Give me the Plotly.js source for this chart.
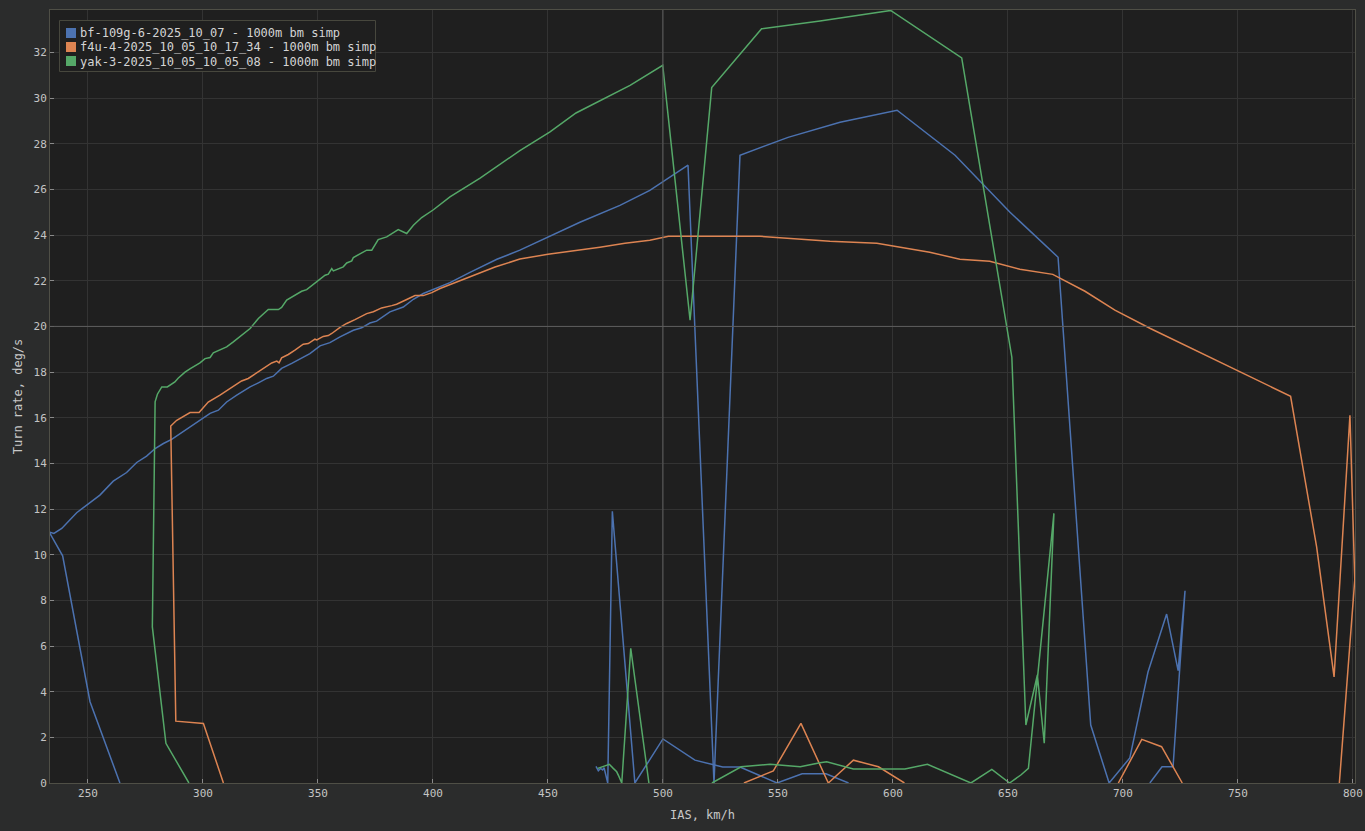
<!DOCTYPE html>
<html>
<head>
<meta charset="utf-8">
<script src="https://cdn.plot.ly/plotly-3.0.1.min.js"></script>
<style>html,body{margin:0;padding:0;background:#2b2c2c;}#chart{width:1365px;height:831px;}</style>
</head>
<body>
<div id="chart"></div>
<script>
// ---- Data (IAS km/h, turn rate deg/s); null separates unconnected pieces ----
const seriesNames = [
  "bf-109g-6-2025_10_07 - 1000m bm simp",
  "f4u-4-2025_10_05_10_17_34 - 1000m bm simp",
  "yak-3-2025_10_05_10_05_08 - 1000m bm simp"
];

const bfX = [263.9, 250.9, 239.0, 233.1, 235.2, 238.6, 245.1, 250.2, 255.2, 261.0, 266.8, 271.2, 275.5, 279.2, 282.8, 286.4, 291.5, 297.3,
  303.1, 306.7, 310.3, 314.7, 320.5, 324.1, 327.7, 330.6, 334.2, 338.6, 342.9, 346.5, 350.9, 355.2, 359.6, 365.4, 369.0, 372.6, 375.5,
  381.3, 387.1, 391.5, 395.8, 401.6, 407.4, 416.1, 427.8, 437.8, 450.9, 463.9, 481.3, 494.3, 510.9, 522.2, 533.5, 554.4, 577.0, 601.8,
  627.0, 650.9, 671.8, 686.0, 694.0, 703.0, 710.9, 719.0, 724.0, 727.0, 721.8, 717.0, 711.7,
  null,
  470.9, 471.9, 472.9, 473.8, 474.4, 476.0, 478.0, 487.8, 500.0, 513.9, 526.0, 533.5, 549.6, 560.5, 570.9, 580.7];
const bfY = [0, 3.56, 9.95, 11.0, 10.93, 11.15, 11.84, 12.22, 12.61, 13.22, 13.6, 14.04, 14.32, 14.65, 14.87, 15.05, 15.41, 15.82,
  16.19, 16.33, 16.69, 16.99, 17.35, 17.53, 17.72, 17.82, 18.16, 18.38, 18.62, 18.81, 19.15, 19.29, 19.54, 19.83, 19.94, 20.15, 20.23,
  20.64, 20.85, 21.19, 21.44, 21.69, 21.92, 22.37, 22.94, 23.34, 23.95, 24.56, 25.3, 25.96, 27.06, 0, 27.5, 28.28, 28.94, 29.47,
  27.5, 25.0, 23.03, 2.54, 0, 1.1, 4.86, 7.4, 4.92, 8.42, 0.71, 0.71, 0,
  null,
  0.73, 0.54, 0.64, 0.57, 0.67, 0, 11.9, 0, 1.93, 1.0, 0.7, 0.7, 0, 0.4, 0.4, 0];

const f4uX = [308.9, 300.2, 288.2, 286.0, 288.6, 294.4, 298.3, 301.6, 302.3, 307.4, 312.5, 316.8, 319.7, 324.1, 327.7, 329.9, 332.1, 333.1,
  334.2, 337.1, 340.0, 343.6, 345.8, 348.7, 349.5, 352.3, 354.5, 356.0, 359.6, 362.5, 366.1, 371.2, 374.1, 377.7, 382.1, 384.2, 388.6,
  392.2, 395.8, 399.5, 403.1, 407.4, 416.1, 427.0, 437.8, 450.0, 472.6, 483.5, 494.3, 502.4, 542.2, 572.6, 593.0, 616.0, 629.1, 642.1, 655.2,
  669.5, 683.5, 696.5, 711.7, 733.5, 750.9, 772.9, 784.2, 791.8, 798.7, 800.8, 794.1,
  null,
  535.2, 548.0, 560.0, 571.9, 582.8, 593.7, 605.0,
  null,
  698.0, 708.2, 716.8, 725.8];
const f4uY = [0, 2.61, 2.71, 15.64, 15.89, 16.23, 16.23, 16.62, 16.69, 16.99, 17.31, 17.61, 17.72, 18.01, 18.23, 18.4, 18.48, 18.4,
  18.62, 18.77, 18.96, 19.22, 19.25, 19.44, 19.41, 19.56, 19.6, 19.69, 19.96, 20.13, 20.3, 20.56, 20.64, 20.81, 20.91, 20.97, 21.18,
  21.35, 21.35, 21.48, 21.66, 21.83, 22.2, 22.6, 22.95, 23.16, 23.47, 23.64, 23.77, 23.95, 23.95, 23.73, 23.64, 23.25, 22.94, 22.85, 22.5,
  22.28, 21.54, 20.71, 19.92, 18.87, 18.0, 16.94, 10.35, 4.65, 16.11, 8.9, 0,
  null,
  0, 0.53, 2.61, 0, 1.0, 0.71, 0,
  null,
  0, 1.91, 1.59, 0];

const yakX = [293.9, 283.9, 278.0, 279.2, 280.2, 282.1, 284.5, 287.8, 289.2, 292.2, 294.5, 298.7, 300.9, 303.1, 304.5, 307.4, 310.3, 313.2,
  316.1, 320.5, 324.1, 328.4, 332.8, 334.2, 336.4, 340.8, 342.9, 345.1, 349.5, 351.6, 353.1, 354.5, 355.2, 356.0, 356.7, 359.6, 361.0,
  362.5, 364.7, 365.4, 367.5, 371.2, 373.4, 376.2, 379.9, 384.9, 388.6, 391.5, 395.1, 400.2, 407.4, 420.5, 437.8, 450.9, 462.2, 485.7,
  499.9, 511.8, 521.2, 542.9, 568.3, 585.7, 599.0, 629.9, 651.7, 657.8, 662.8, 665.8, 670.0, 658.9, 655.6, 650.7, 643.0, 633.9, 615.0,
  605.2, 582.8, 571.2, 568.3, 559.7, 546.6, 534.0, 521.3,
  null,
  471.7, 476.7, 478.4, 479.9, 480.9, 482.1, 486.0, 493.9];
const yakY = [0, 1.74, 6.84, 16.7, 17.03, 17.35, 17.35, 17.57, 17.73, 18.0, 18.15, 18.4, 18.59, 18.64, 18.84, 18.96, 19.1, 19.32,
  19.54, 19.91, 20.35, 20.74, 20.74, 20.83, 21.15, 21.4, 21.54, 21.61, 21.95, 22.14, 22.24, 22.29, 22.43, 22.53, 22.43, 22.53, 22.61,
  22.78, 22.87, 23.02, 23.13, 23.34, 23.34, 23.8, 23.92, 24.24, 24.07, 24.43, 24.77, 25.11, 25.67, 26.5, 27.7, 28.52, 29.35, 30.56,
  31.44, 20.27, 30.46, 33.04, 33.38, 33.63, 33.84, 31.76, 18.65, 2.54, 4.73, 1.74, 11.81, 0.64, 0.35, 0, 0.6, 0, 0.82,
  0.61, 0.61, 0.93, 0.89, 0.71, 0.82, 0.71, 0,
  null,
  0.64, 0.82, 0.64, 0.49, 0.28, 0, 5.9, 0];

const xTicks = [250, 300, 350, 400, 450, 500, 550, 600, 650, 700, 750, 800];
const yTicks = [0, 2, 4, 6, 8, 10, 12, 14, 16, 18, 20, 22, 24, 26, 28, 30, 32];
const cursorX = 500;
const cursorY = 20;

// ---- Styling ----
const colors = ["#4c72b0", "#dd8452", "#55a868"];
const MONO = "DejaVu Sans Mono";
const W = 1365, H = 831;
const M = {l: 50, r: 10, t: 10, b: 48};
const plotW = W - M.l - M.r, plotH = H - M.t - M.b;
const px2x = p => (p - M.l) / plotW;
const py2y = p => (H - M.b - p) / plotH;

const xs = [bfX, f4uX, yakX], ys = [bfY, f4uY, yakY];
const traces = seriesNames.map((n, i) => ({
  type: "scatter", mode: "lines", name: n,
  x: xs[i], y: ys[i], connectgaps: false,
  line: {color: colors[i], width: 1.5},
  showlegend: false, hoverinfo: "x+y+name"
}));

// custom legend (square swatches like the reference)
const legShapes = [{
  type: "rect", xref: "paper", yref: "paper",
  x0: px2x(59.5), x1: px2x(375.5), y0: py2y(71.5), y1: py2y(20.5),
  fillcolor: "#1f1f1f", line: {color: "#47473d", width: 1}, layer: "above"
}];
const legAnn = [];
const rowY = [33, 47, 61];
seriesNames.forEach((n, i) => {
  legShapes.push({
    type: "rect", xref: "paper", yref: "paper",
    x0: px2x(66), x1: px2x(76), y0: py2y(rowY[i] + 5), y1: py2y(rowY[i] - 5),
    fillcolor: colors[i], line: {width: 0}, layer: "above"
  });
  legAnn.push({
    xref: "paper", yref: "paper", x: px2x(77.5), y: py2y(rowY[i] + 0.5),
    xanchor: "left", yanchor: "middle", showarrow: false, text: n,
    font: {family: MONO, size: 12, color: "#d4d4d4"}
  });
});

const shapes = [
  {type: "line", xref: "x", yref: "paper", x0: cursorX, x1: cursorX, y0: 0, y1: 1, line: {color: "#5e5e5e", width: 1}, layer: "above"},
  {type: "line", xref: "paper", yref: "y", x0: 0, x1: 1, y0: cursorY, y1: cursorY, line: {color: "#5e5e5e", width: 1}, layer: "above"}
].concat(legShapes);

const axisCommon = {
  showgrid: true, gridcolor: "#333333", gridwidth: 1, zeroline: false,
  showline: true, linecolor: "#4f4f46", linewidth: 1, mirror: true,
  ticks: "inside", ticklen: 4, tickcolor: "#8a8a8a",
  tickfont: {family: MONO, size: 11, color: "#c4c4c4"}
};

const layout = {
  width: W, height: H,
  margin: M,
  paper_bgcolor: "#2b2c2c", plot_bgcolor: "#1f1f1f",
  showlegend: false,
  font: {family: MONO, color: "#c4c4c4"},
  xaxis: Object.assign({}, axisCommon, {
    range: [233.5, 800.9], tickmode: "array", tickvals: xTicks,
    title: {text: "IAS, km/h", font: {family: MONO, size: 12, color: "#c8c8c8"}, standoff: 11}
  }),
  yaxis: Object.assign({}, axisCommon, {
    range: [0, 33.86], tickmode: "array", tickvals: yTicks,
    title: {text: "Turn rate, deg/s", font: {family: MONO, size: 12, color: "#c8c8c8"}, standoff: 8}
  }),
  shapes: shapes,
  annotations: legAnn
};

Plotly.newPlot("chart", traces, layout, {displayModeBar: false, staticPlot: true});
</script>
</body>
</html>
